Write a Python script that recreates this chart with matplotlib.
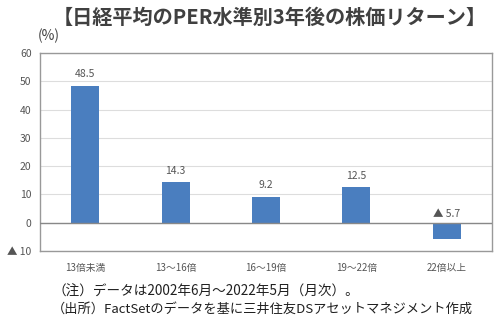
import matplotlib
matplotlib.use("Agg")
import matplotlib.pyplot as plt

plt.rcParams['font.family'] = ['Noto Sans CJK JP', 'DejaVu Sans']

categories = ['13倍未満', '13～16倍', '16～19倍', '19～22倍', '22倍以上']
returns = [48.5, 14.3, 9.2, 12.5, -5.7]
bar_labels = ['48.5', '14.3', '9.2', '12.5', '▲ 5.7']
yticks = [-10, 0, 10, 20, 30, 40, 50, 60]
ytick_labels = ['▲ 10', '0', '10', '20', '30', '40', '50', '60']

fig = plt.figure(figsize=(5, 3.23), dpi=100)
ax = fig.add_axes([0.08, 0.223, 0.904, 0.613])

x = range(len(categories))
ax.bar(x, returns, width=0.31, color='#4a7ebf', zorder=3)
for i, v in enumerate(returns):
    yy = v + 2.2 if v > 0 else 1.2
    ax.text(i, yy, bar_labels[i], ha='center', va='bottom', fontsize=7.5, color='#555555')

ax.set_ylim(-10, 60)
ax.set_xlim(-0.5, len(categories) - 0.5)
ax.set_yticks(yticks)
ax.set_yticklabels(ytick_labels, fontsize=7.5, color='#555555')
ax.set_xticks(list(x))
ax.set_xticklabels(categories, fontsize=7, color='#555555')
ax.tick_params(length=0, pad=6)
ax.tick_params(axis='x', pad=9)
ax.yaxis.grid(True, color='#dddddd', linewidth=0.8, zorder=0)
ax.axhline(0, color='#888888', linewidth=1, zorder=4)
for s in ax.spines.values():
    s.set_color('#999999')
    s.set_linewidth(1)

fig.text(0.54, 0.945, '【日経平均のPER水準別3年後の株価リターン】', ha='center', va='center',
         fontsize=14.5, fontweight='bold', color='#404040')
fig.text(0.076, 0.89, '(%)', ha='left', va='center', fontsize=10, color='#404040')
fig.text(0.104, 0.098, '（注）データは2002年6月～2022年5月（月次）。', ha='left', va='center',
         fontsize=9.8, color='#202020')
fig.text(0.104, 0.042, '（出所）FactSetのデータを基に三井住友DSアセットマネジメント作成', ha='left', va='center',
         fontsize=9.5, color='#202020')

fig.savefig('out.png', dpi=100)
